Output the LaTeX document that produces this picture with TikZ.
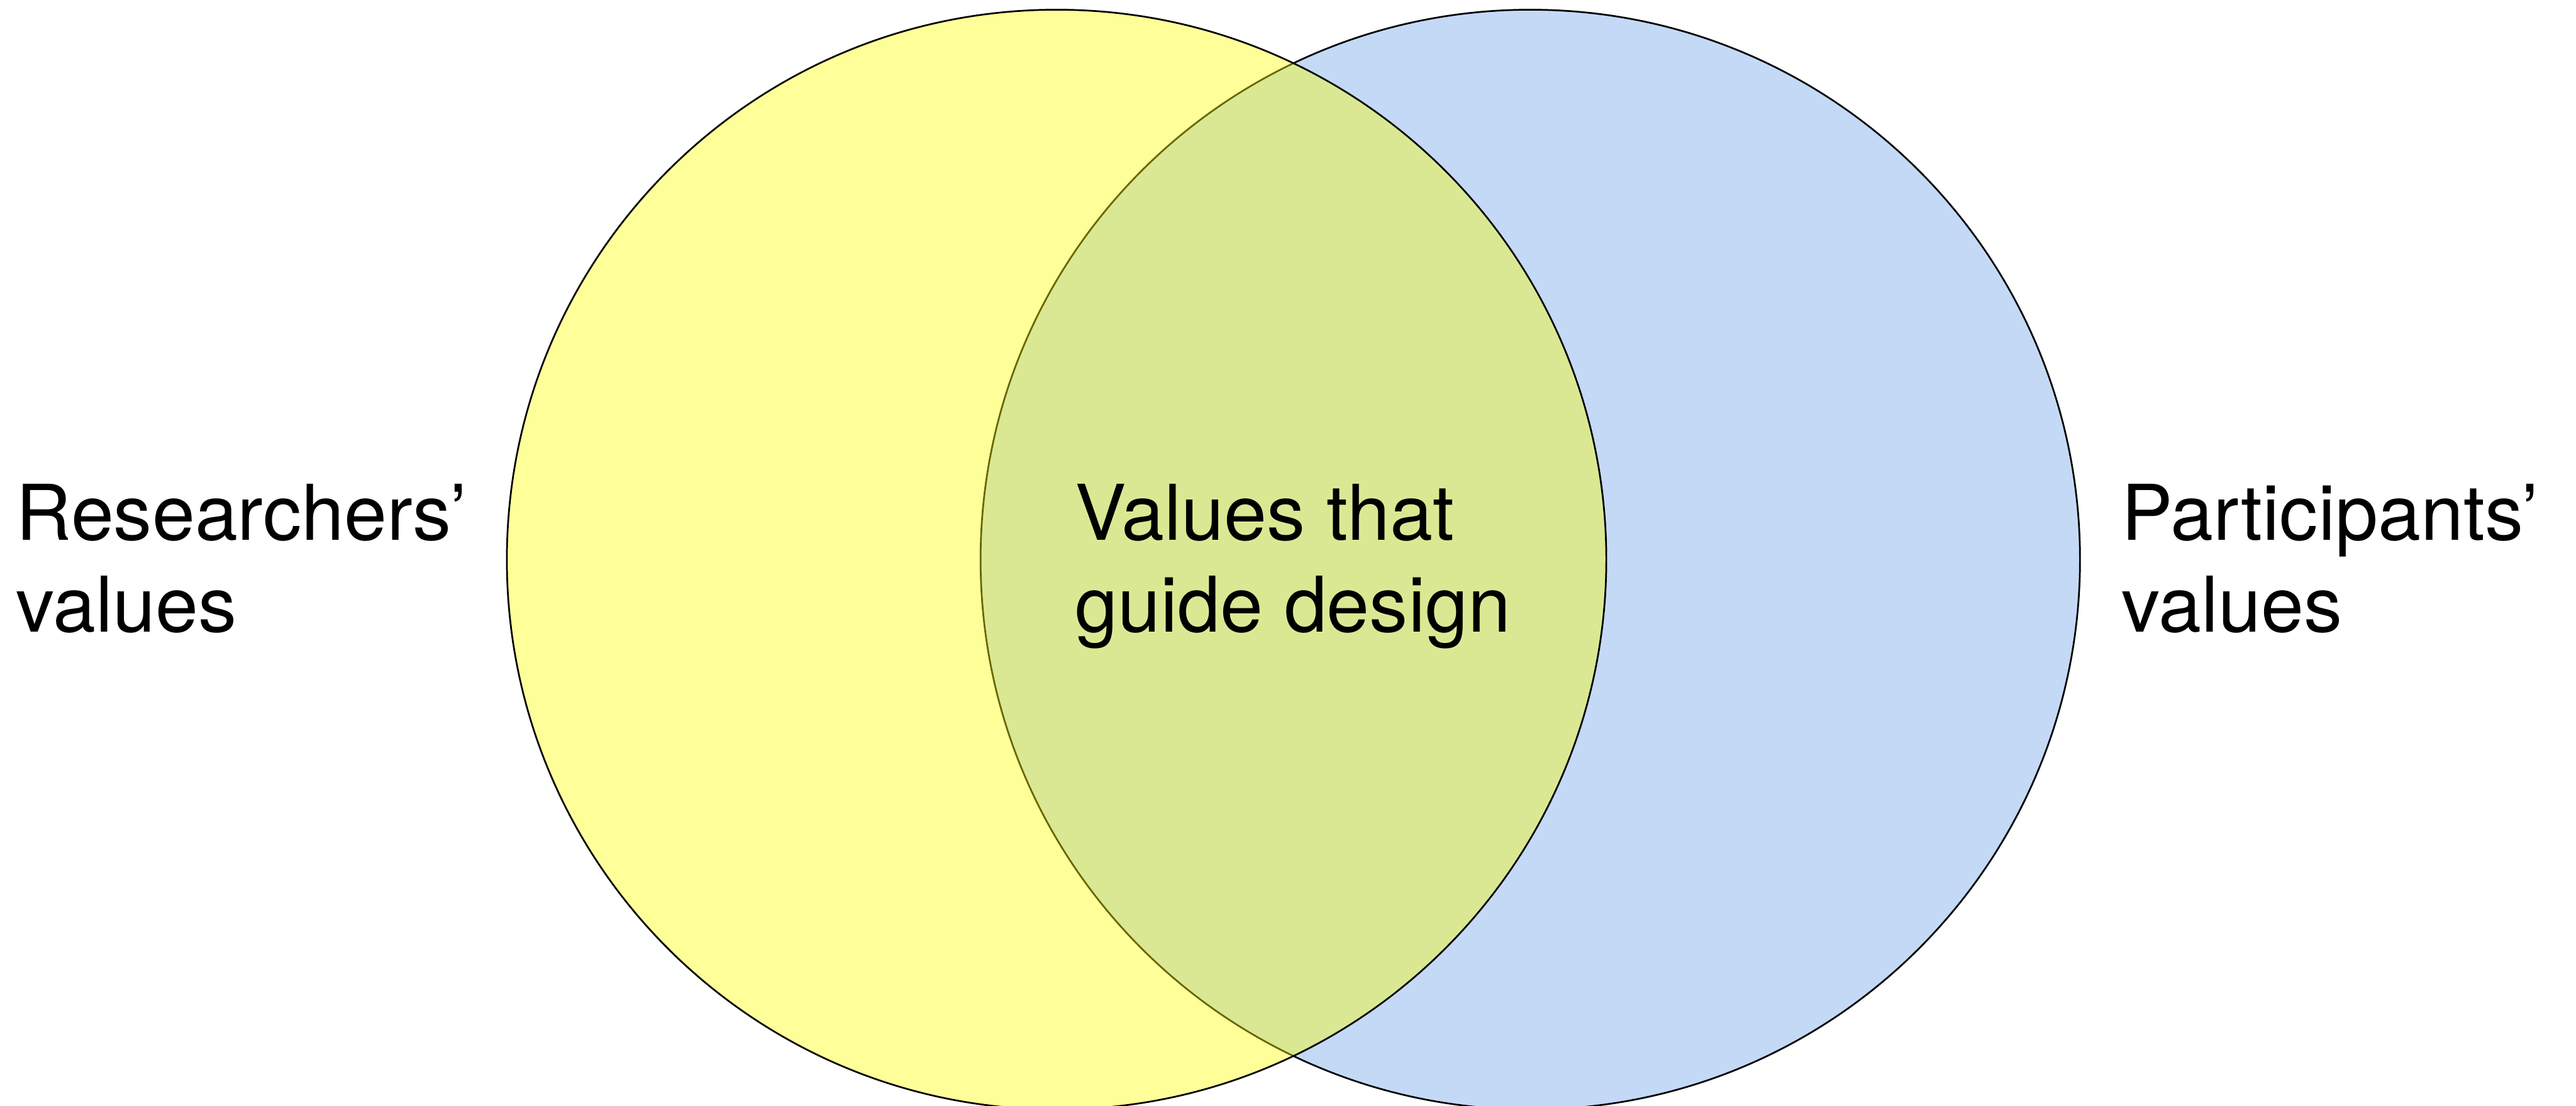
\documentclass[tikz,border=0pt]{standalone}
\usepackage{fontspec}
\setmainfont{TeX Gyre Heros}
\begin{document}
\begin{tikzpicture}[
  setcircle/.style={circle, inner sep=0pt, outer sep=0pt, minimum size=384.8pt, draw=black, line width=0.6pt},
  label/.style={anchor=base west, inner sep=0pt, align=left, text=black,
    font=\fontsize{26.9pt}{32pt}\selectfont}
]
\definecolor{partblue}{RGB}{196,217,245}
\definecolor{resyellow}{RGB}{255,255,0}
\useasboundingbox (0,0) rectangle (901.6pt,-386.8pt);
% participants' circle, opaque
\node[setcircle, fill=partblue] (part) at (535.6pt,-195.8pt) {};
% researchers' circle, translucent so the overlap shows through
\node[setcircle, fill=resyellow, fill opacity=0.4] (res) at (369.8pt,-195.8pt) {};
% labels (base anchor sits on the last line)
\node[label] (reslabel) at (5.5pt,-221pt) {Researchers’\\values};
\node[label] (mid) at (376pt,-221pt) {Values that\\guide design};
\node[label] (partlabel) at (742.4pt,-221pt) {Participants’\\values};
\end{tikzpicture}
\end{document}
